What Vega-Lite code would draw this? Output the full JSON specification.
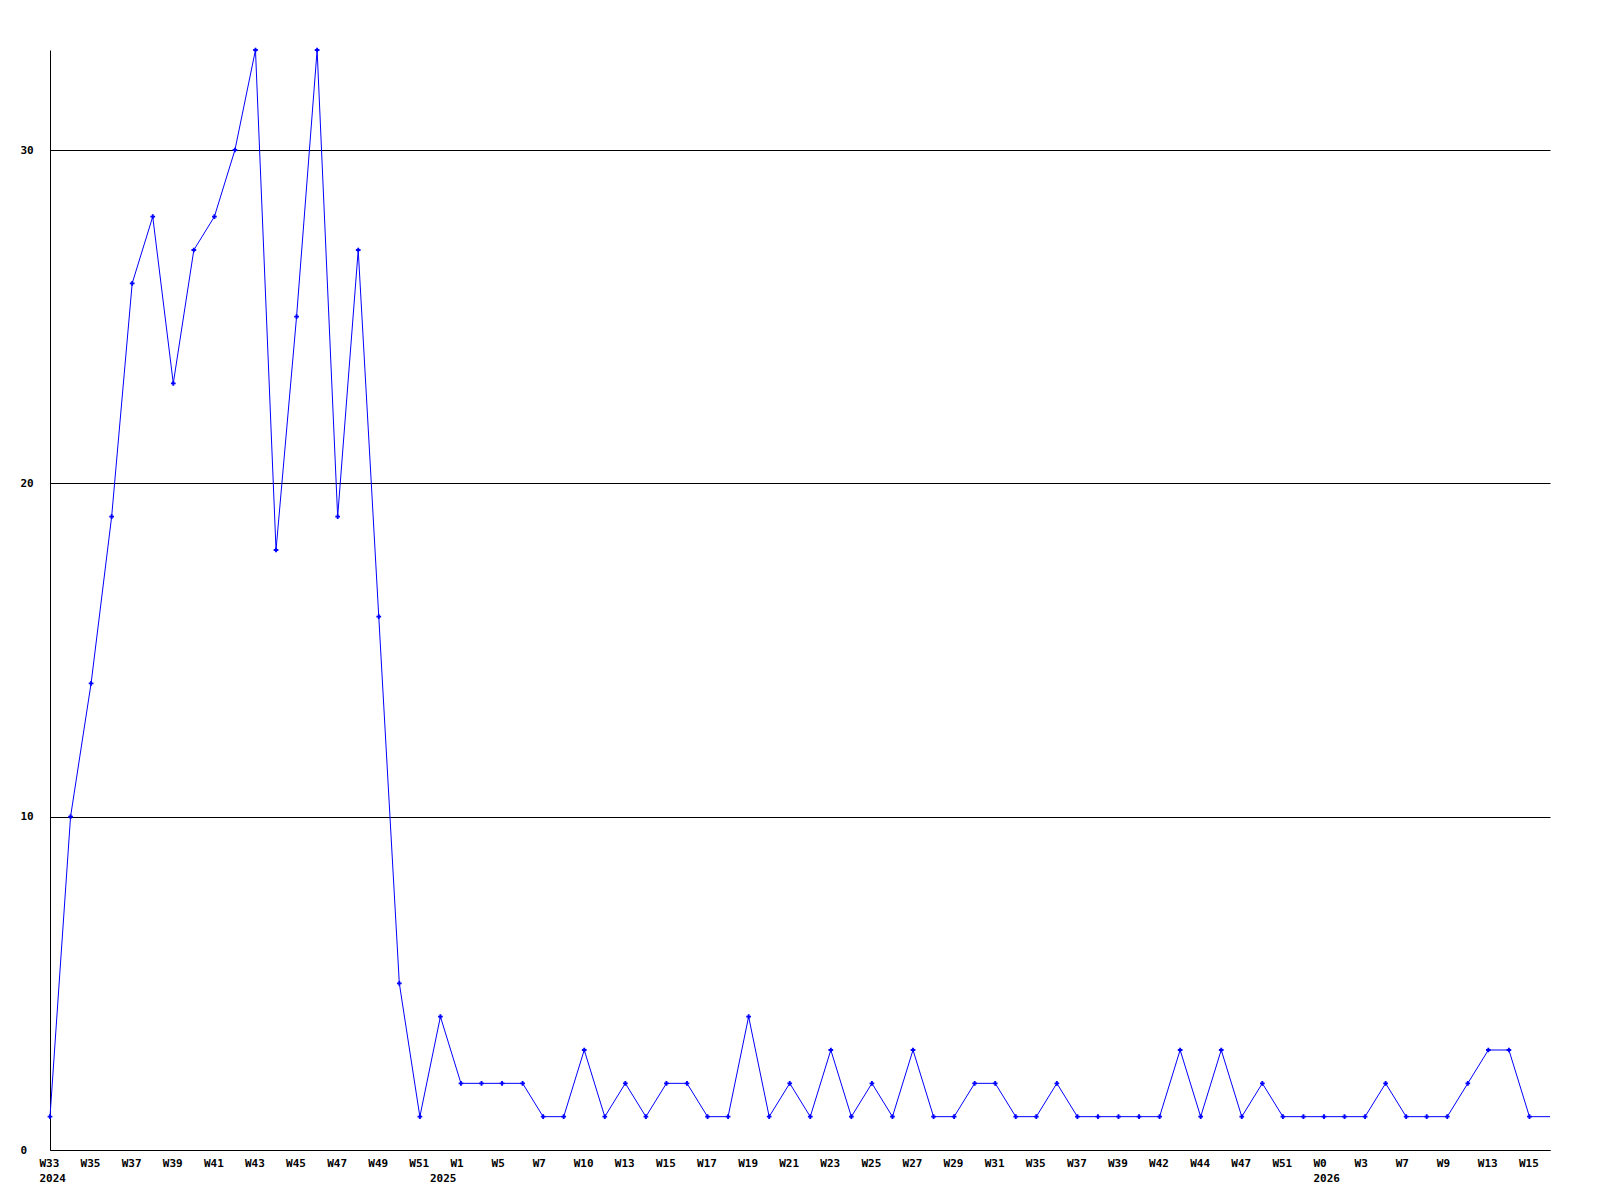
{
  "$schema": "https://vega.github.io/schema/vega-lite/v6.json",
  "width": 1500,
  "height": 1100,
  "autosize": "none",
  "padding": {"left": 50, "top": 50, "right": 50, "bottom": 50},
  "background": "white",
  "config": {
    "view": {"stroke": null},
    "axis": {
      "labelFont": "DejaVu Sans Mono",
      "labelFontWeight": "bold",
      "labelFontSize": 11,
      "labelColor": "black",
      "ticks": false,
      "domainColor": "black",
      "domainWidth": 1,
      "title": null
    }
  },
  "data": {
    "values": [
      {"idx": 0, "value": 1}, {"idx": 1, "value": 10}, {"idx": 2, "value": 14}, {"idx": 3, "value": 19},
      {"idx": 4, "value": 26}, {"idx": 5, "value": 28}, {"idx": 6, "value": 23}, {"idx": 7, "value": 27},
      {"idx": 8, "value": 28}, {"idx": 9, "value": 30}, {"idx": 10, "value": 33}, {"idx": 11, "value": 18},
      {"idx": 12, "value": 25}, {"idx": 13, "value": 33}, {"idx": 14, "value": 19}, {"idx": 15, "value": 27},
      {"idx": 16, "value": 16}, {"idx": 17, "value": 5}, {"idx": 18, "value": 1}, {"idx": 19, "value": 4},
      {"idx": 20, "value": 2}, {"idx": 21, "value": 2}, {"idx": 22, "value": 2}, {"idx": 23, "value": 2},
      {"idx": 24, "value": 1}, {"idx": 25, "value": 1}, {"idx": 26, "value": 3}, {"idx": 27, "value": 1},
      {"idx": 28, "value": 2}, {"idx": 29, "value": 1}, {"idx": 30, "value": 2}, {"idx": 31, "value": 2},
      {"idx": 32, "value": 1}, {"idx": 33, "value": 1}, {"idx": 34, "value": 4}, {"idx": 35, "value": 1},
      {"idx": 36, "value": 2}, {"idx": 37, "value": 1}, {"idx": 38, "value": 3}, {"idx": 39, "value": 1},
      {"idx": 40, "value": 2}, {"idx": 41, "value": 1}, {"idx": 42, "value": 3}, {"idx": 43, "value": 1},
      {"idx": 44, "value": 1}, {"idx": 45, "value": 2}, {"idx": 46, "value": 2}, {"idx": 47, "value": 1},
      {"idx": 48, "value": 1}, {"idx": 49, "value": 2}, {"idx": 50, "value": 1}, {"idx": 51, "value": 1},
      {"idx": 52, "value": 1}, {"idx": 53, "value": 1}, {"idx": 54, "value": 1}, {"idx": 55, "value": 3},
      {"idx": 56, "value": 1}, {"idx": 57, "value": 3}, {"idx": 58, "value": 1}, {"idx": 59, "value": 2},
      {"idx": 60, "value": 1}, {"idx": 61, "value": 1}, {"idx": 62, "value": 1}, {"idx": 63, "value": 1},
      {"idx": 64, "value": 1}, {"idx": 65, "value": 2}, {"idx": 66, "value": 1}, {"idx": 67, "value": 1},
      {"idx": 68, "value": 1}, {"idx": 69, "value": 2}, {"idx": 70, "value": 3}, {"idx": 71, "value": 3},
      {"idx": 72, "value": 1}, {"idx": 73, "value": 1}
    ]
  },
  "encoding": {
    "x": {
      "field": "idx",
      "type": "quantitative",
      "scale": {"domain": [0, 73], "nice": false, "zero": false},
      "axis": {
        "values": [0, 2, 4, 6, 8, 10, 12, 14, 16, 18, 19, 20, 22, 24, 26, 28, 30, 32, 34, 36, 38, 40, 42, 44, 46, 48, 50, 52, 54, 56, 58, 60, 62, 64, 66, 68, 70, 72],
        "grid": false,
        "labelAlign": "left",
        "labelBaseline": "top",
        "labelOffset": -11,
        "labelPadding": 7,
        "labelLineHeight": 15,
        "labelOverlap": false,
        "labelFlush": false,
        "labelBound": false,
        "labelExpr": "[['W33','2024'],'','W35','','W37','','W39','','W41','','W43','','W45','','W47','','W49','','W51',[' ','2025'],'W1','','W5','','W7','','W10','','W13','','W15','','W17','','W19','','W21','','W23','','W25','','W27','','W29','','W31','','W35','','W37','','W39','','W42','','W44','','W47','','W51','',['W0','2026'],'','W3','','W7','','W9','','W13','','W15'][datum.value]"
      }
    },
    "y": {
      "field": "value",
      "type": "quantitative",
      "scale": {"domain": [0, 33], "nice": false},
      "axis": {
        "values": [0, 10, 20, 30],
        "grid": true,
        "gridColor": "black",
        "gridOpacity": 1,
        "gridWidth": 1,
        "labelAlign": "left",
        "labelBaseline": "middle",
        "labelPadding": 30
      }
    }
  },
  "layer": [
    {"mark": {"type": "line", "color": "#0000ff", "strokeWidth": 1}},
    {
      "transform": [{"filter": "datum.idx < 73"}],
      "mark": {"type": "point", "shape": "cross", "filled": true, "color": "#0000ff", "size": 22, "opacity": 1}
    }
  ]
}
